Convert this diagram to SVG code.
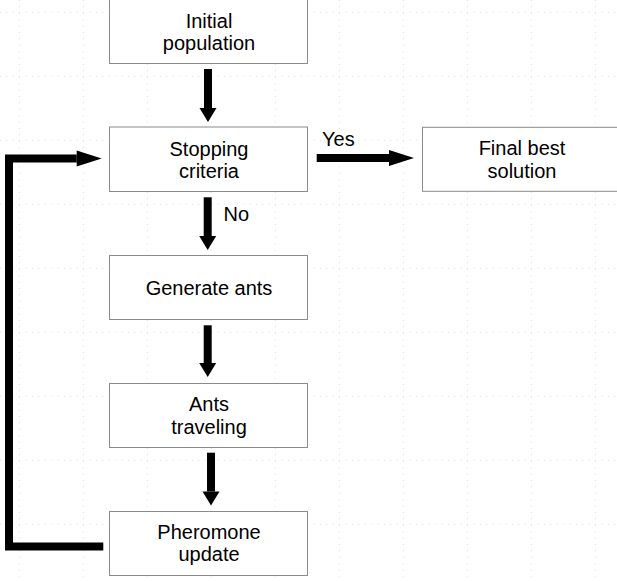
<svg xmlns="http://www.w3.org/2000/svg" width="617" height="581" viewBox="0 0 617 581">
<style>
.grid{stroke:#dcdcdc;stroke-width:1;stroke-dasharray:1 5.4;fill:none}
.box{fill:#ffffff;stroke:#8a8a8a;stroke-width:1}
.lbl{font-family:"Liberation Sans",Arial,sans-serif;font-size:20px;fill:#000;text-anchor:middle}
.elbl{font-family:"Liberation Sans",Arial,sans-serif;font-size:20px;fill:#000}
.conn{stroke:#000;stroke-width:8;fill:none}
</style>
<defs>
<marker id="hv" markerUnits="userSpaceOnUse" markerWidth="15" markerHeight="17" refX="0" refY="8.5" orient="auto" overflow="visible">
<path d="M0,0 L14,8.5 L0,17 Z" fill="#000"/>
</marker>
<marker id="hh" markerUnits="userSpaceOnUse" markerWidth="25" markerHeight="16" refX="0" refY="8" orient="auto" overflow="visible">
<path d="M0,0 L25,8 L0,16 Z" fill="#000"/>
</marker>
</defs>
<rect width="617" height="581" fill="#ffffff"/>
<g id="grid">
<path class="grid" d="M19.3,0V581M83.3,0V581M147.3,0V581M211.3,0V581M275.3,0V581M339.3,0V581M403.3,0V581M467.3,0V581M531.3,0V581M595.3,0V581"/>
<path class="grid" d="M0,12.3H617M0,76.3H617M0,140.3H617M0,204.3H617M0,268.3H617M0,332.3H617M0,396.3H617M0,460.3H617M0,524.3H617"/>
</g>
<g id="connectors">
<line class="conn" x1="208" y1="69" x2="208" y2="108" marker-end="url(#hv)"/>
<line class="conn" x1="207.7" y1="197.3" x2="207.7" y2="236" marker-end="url(#hv)"/>
<line class="conn" x1="207.7" y1="325.3" x2="207.7" y2="363" marker-end="url(#hv)"/>
<line class="conn" x1="211" y1="452.7" x2="211" y2="491.5" marker-end="url(#hv)"/>
<line class="conn" x1="316.7" y1="158" x2="389" y2="158" marker-end="url(#hh)"/>
<polyline class="conn" points="103.3,546.5 9,546.5 9,158.5 76.7,158.5" marker-end="url(#hh)"/>
<text class="elbl" x="322" y="146">Yes</text>
<text class="elbl" x="223.5" y="220.5">No</text>
</g>
<g id="initial">
<rect class="box" x="109.5" y="-0.5" width="198" height="64"/>
<text class="lbl" x="209" y="27.5">Initial</text>
<text class="lbl" x="209" y="50">population</text>
</g>
<g id="stopping">
<rect class="box" x="109.5" y="127" width="198" height="64.5"/>
<text class="lbl" x="209" y="155.5">Stopping</text>
<text class="lbl" x="209" y="177.5">criteria</text>
</g>
<g id="final">
<rect class="box" x="422.5" y="127.3" width="198" height="64"/>
<text class="lbl" x="522" y="155">Final best</text>
<text class="lbl" x="522" y="177.5">solution</text>
</g>
<g id="generate">
<rect class="box" x="109.5" y="255.5" width="198" height="64"/>
<text class="lbl" x="209" y="294.5">Generate ants</text>
</g>
<g id="traveling">
<rect class="box" x="109.5" y="383.5" width="198" height="64"/>
<text class="lbl" x="209" y="410.5">Ants</text>
<text class="lbl" x="209" y="433.5">traveling</text>
</g>
<g id="pheromone">
<rect class="box" x="109.5" y="511.5" width="198" height="64"/>
<text class="lbl" x="209" y="538.5">Pheromone</text>
<text class="lbl" x="209" y="560.5">update</text>
</g>
</svg>
